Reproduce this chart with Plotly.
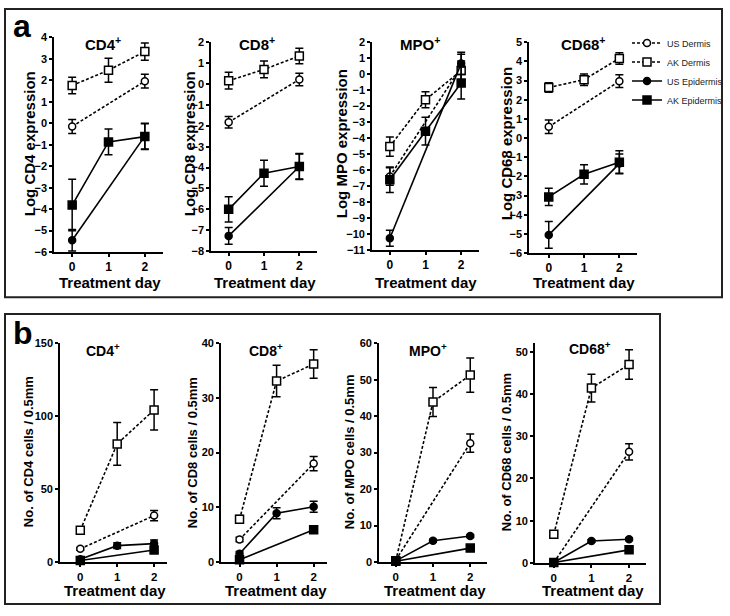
import plotly.graph_objects as go

W, H = 730, 616

# ---------------- data ----------------
days3 = [0, 1, 2]
days2 = [0, 2]
markers = ["CD4", "CD8", "MPO", "CD68"]

# Panel a : log expression (US series measured on day 0 and 2 only)
a_us_dermis = [[-0.15, 1.96], [-1.83, 0.22], [-6.39, 0.45], [0.59, 2.97]]
a_us_dermis_err = [[0.33, 0.32], [0.28, 0.30], [0.55, 0.80], [0.35, 0.33]]
a_ak_dermis = [[1.76, 2.47, 3.34], [0.16, 0.70, 1.34], [-4.52, -1.60, 0.23], [2.64, 3.05, 4.16]]
a_ak_dermis_err = [[0.38, 0.56, 0.40], [0.40, 0.40, 0.37], [0.60, 0.50, 0.60], [0.25, 0.30, 0.30]]
a_us_epi = [[-5.45, -0.60], [-7.27, -3.95], [-10.26, 0.68], [-5.05, -1.33]]
a_us_epi_err = [[0.50, 0.60], [0.40, 0.60], [0.50, 0.70], [0.70, 0.50]]
a_ak_epi = [[-3.81, -0.87, -0.62], [-6.00, -4.27, -3.95], [-6.60, -3.56, -0.55], [-3.07, -1.89, -1.26]]
a_ak_epi_err = [[1.20, 0.60, 0.60], [0.60, 0.62, 0.62], [0.80, 0.87, 1.00], [0.45, 0.50, 0.60]]
a_yranges = [[-6, 4], [-8, 2], [-11, 2], [-6, 5]]

# Panel b : cell counts per 0.5 mm
b_us_dermis = [[9.0, 31.8], [4.1, 18.0], [0.5, 32.6], [0.1, 26.3]]
b_us_dermis_err = [[1.0, 3.5], [0.4, 1.3], [0.3, 2.5], [0.1, 1.9]]
b_ak_dermis = [[21.8, 81.0, 104.3], [7.8, 33.1, 36.2], [0.3, 43.9, 51.3], [6.8, 41.4, 47.0]]
b_ak_dermis_err = [[2.0, 14.6, 13.8], [0.7, 2.9, 2.6], [0.2, 4.0, 4.7], [0.5, 3.3, 3.5]]
b_us_epi = [[1.8, 11.2, 12.6], [1.5, 8.9, 10.1], [0.3, 5.8, 7.1], [0.1, 5.2, 5.6]]
b_us_epi_err = [[0.8, 2.0, 2.5], [0.4, 1.0, 1.0], [0.1, 0.4, 0.4], [0.1, 0.3, 0.3]]
b_ak_epi = [[1.0, 8.2], [0.4, 5.9], [0.2, 3.8], [0.1, 3.1]]
b_ak_epi_err = [[0.5, 1.5], [0.2, 0.4], [0.1, 0.3], [0.1, 0.3]]
b_yranges = [[0, 150], [0, 40], [0, 60], [0, 52]]
b_dticks = [50, 10, 10, 10]

# ---------------- layout geometry (pixels) ----------------
a_xpix = [(54, 163), (211, 317), (372, 479), (529, 637)]
a_ypix = [(32, 251), (37, 250), (37, 249), (37, 252)]
a_xranges = [[-0.5, 2.5], [-0.5, 2.5], [-0.5, 2.5], [-0.56, 2.5]]
a_title_pos = [(103, 38), (257, 38), (420, 38), (583, 38)]
a_ylab_x = [29, 189, 341, 506]

b_xpix = [(60, 167), (221, 327), (379, 487), (535, 646)]
b_ypix = [(344, 567), (344, 567), (344, 567), (344, 568)]
b_xranges = [[-0.55, 2.35], [-0.5, 2.36], [-0.45, 2.45], [-0.5, 2.45]]
b_title_pos = [(103, 351), (266, 351), (428, 351), (590, 349)]
b_ylab_x = [28, 192, 349, 506]

FONT = "Liberation Sans, Arial, sans-serif"

def px(x):
    return x / W

def py(y):
    return 1 - y / H

series_style = [
    dict(name="US Dermis", symbol="circle", fill="white", dash="3px,2px", size=7),
    dict(name="AK Dermis", symbol="square", fill="white", dash="3px,2px", size=8),
    dict(name="US Epidermis", symbol="circle", fill="black", dash="solid", size=7),
    dict(name="AK Epidermis", symbol="square", fill="black", dash="solid", size=8),
]

fig = go.Figure()
annotations = []
layout_axes = {}

def ax_name(prefix, i):
    return prefix + ("" if i == 1 else str(i))

def add_trace(ax_i, style, xs, ys, errs, show):
    fig.add_trace(go.Scatter(
        x=xs, y=ys, name=style["name"], legendgroup=style["name"], showlegend=show,
        mode="lines+markers",
        line=dict(color="black", width=1.6, dash=style["dash"]),
        marker=dict(symbol=style["symbol"], size=style["size"], color=style["fill"],
                    line=dict(color="black", width=1.5)),
        error_y=dict(type="data", array=errs, visible=True, color="black", thickness=1.5, width=4),
        xaxis=ax_name("x", ax_i), yaxis=ax_name("y", ax_i),
        cliponaxis=False,
    ))

def axis_common(tsize):
    return dict(showgrid=False, zeroline=False, showline=True, linecolor="black", linewidth=1.6,
                ticks="outside", ticklen=3, tickwidth=1.5, tickcolor="black",
                tickfont=dict(family=FONT, size=tsize, color="black", weight="bold"))

for k in range(4):
    # ----- panel a -----
    i = k + 1
    add_trace(i, series_style[0], days2, a_us_dermis[k], a_us_dermis_err[k], k == 0)
    add_trace(i, series_style[1], days3, a_ak_dermis[k], a_ak_dermis_err[k], k == 0)
    add_trace(i, series_style[2], days2, a_us_epi[k], a_us_epi_err[k], k == 0)
    add_trace(i, series_style[3], days3, a_ak_epi[k], a_ak_epi_err[k], k == 0)
    xa = axis_common(12)
    xa.update(domain=[px(a_xpix[k][0]), px(a_xpix[k][1])], range=a_xranges[k],
              tickvals=days3, anchor=ax_name("y", i))
    ya = axis_common(11)
    ya.update(domain=[py(a_ypix[k][1]), py(a_ypix[k][0])], range=a_yranges[k], dtick=1,
              tick0=0, anchor=ax_name("x", i))
    layout_axes[ax_name("xaxis", i)] = xa
    layout_axes[ax_name("yaxis", i)] = ya
    annotations.append(dict(text="<b>%s<sup>+</sup></b>" % markers[k], x=px(a_title_pos[k][0]),
                            y=py(a_title_pos[k][1]), font=dict(size=15)))
    annotations.append(dict(text="<b>Log %s expression</b>" % markers[k], x=px(a_ylab_x[k]),
                            y=py(141), textangle=-90, font=dict(size=15)))
    annotations.append(dict(text="<b>Treatment day</b>", x=px((a_xpix[k][0] + a_xpix[k][1]) / 2 + 1),
                            y=py(282), font=dict(size=15)))

    # ----- panel b -----
    i = k + 5
    add_trace(i, series_style[0], days2, b_us_dermis[k], b_us_dermis_err[k], False)
    add_trace(i, series_style[1], days3, b_ak_dermis[k], b_ak_dermis_err[k], False)
    add_trace(i, series_style[2], days3, b_us_epi[k], b_us_epi_err[k], False)
    add_trace(i, series_style[3], days2, b_ak_epi[k], b_ak_epi_err[k], False)
    xa = axis_common(11.5)
    xa.update(domain=[px(b_xpix[k][0]), px(b_xpix[k][1])], range=b_xranges[k],
              tickvals=days3, anchor=ax_name("y", i))
    ya = axis_common(11)
    ya.update(domain=[py(b_ypix[k][1]), py(b_ypix[k][0])], range=b_yranges[k],
              dtick=b_dticks[k], tick0=0, anchor=ax_name("x", i))
    layout_axes[ax_name("xaxis", i)] = xa
    layout_axes[ax_name("yaxis", i)] = ya
    annotations.append(dict(text="<b>%s<sup>+</sup></b>" % markers[k], x=px(b_title_pos[k][0]),
                            y=py(b_title_pos[k][1]), font=dict(size=14)))
    annotations.append(dict(text="<b>No. of %s cells / 0.5mm</b>" % markers[k], x=px(b_ylab_x[k]),
                            y=py(455), textangle=-90, font=dict(size=13)))
    annotations.append(dict(text="<b>Treatment day</b>", x=px((b_xpix[k][0] + b_xpix[k][1]) / 2 + 2),
                            y=py(596), font=dict(size=15)))

annotations.append(dict(text="<b>a</b>", x=px(22), y=py(20), font=dict(size=32)))
annotations.append(dict(text="<b>b</b>", x=px(23), y=py(333), font=dict(size=32)))

for a in annotations:
    a.update(xref="paper", yref="paper", showarrow=False, xanchor="center", yanchor="middle")
    a["font"].update(family=FONT, color="black")

shapes = [
    dict(type="rect", xref="paper", yref="paper", x0=px(5), x1=px(722), y0=py(297), y1=py(3),
         line=dict(color="#222", width=2)),
    dict(type="rect", xref="paper", yref="paper", x0=px(5), x1=px(660), y0=py(610), y1=py(314),
         line=dict(color="#222", width=2)),
]

fig.update_layout(
    width=W, height=H, margin=dict(l=0, r=0, t=0, b=0),
    paper_bgcolor="white", plot_bgcolor="white",
    font=dict(family=FONT, color="black"),
    annotations=annotations, shapes=shapes,
    legend=dict(x=px(627), y=py(23), xanchor="left", yanchor="top",
                font=dict(family=FONT, size=9, color="#222"), bgcolor="rgba(0,0,0,0)",
                tracegroupgap=0, itemwidth=30),
    **layout_axes,
)

fig.write_html("out.html", config={"displayModeBar": False},
               post_script="document.body.style.margin='0';document.body.style.overflow='hidden';")
